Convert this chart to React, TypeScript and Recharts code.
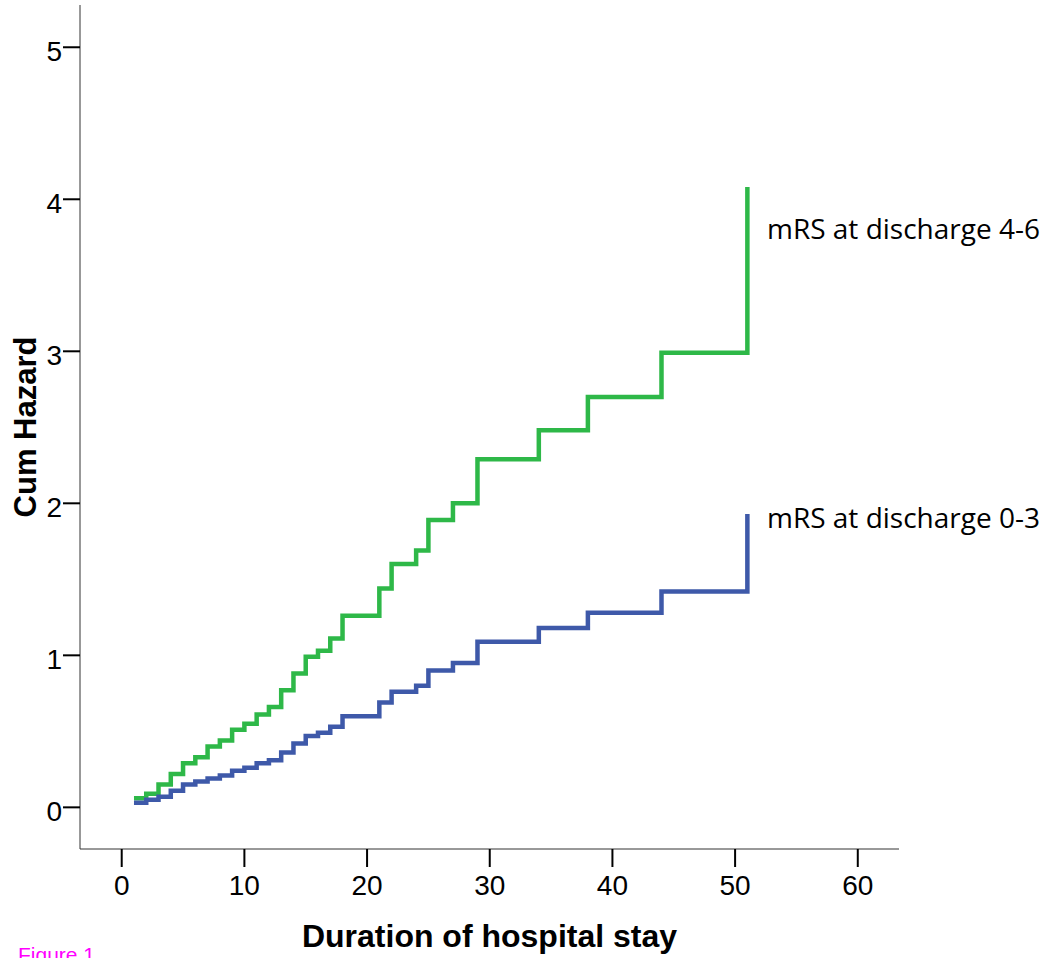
import { Line, LineChart, ReferenceDot, XAxis, YAxis } from "recharts"

// Cumulative hazard step curves
const days = [1, 2, 3, 4, 5, 6, 7, 8, 9, 10, 11, 12, 13, 14, 15, 16, 17, 18, 21, 22, 24, 25, 27, 29, 34, 38, 44, 51]
const hazardHigh = [
  0.06, 0.09, 0.15, 0.22, 0.29, 0.33, 0.4, 0.44, 0.51, 0.55, 0.61, 0.66, 0.77, 0.88, 0.99, 1.03, 1.11, 1.26, 1.44,
  1.6, 1.69, 1.89, 2.0, 2.29, 2.48, 2.7, 2.99, 4.08,
]
const hazardLow = [
  0.03, 0.05, 0.07, 0.11, 0.15, 0.17, 0.19, 0.21, 0.24, 0.26, 0.29, 0.31, 0.36, 0.42, 0.47, 0.49, 0.53, 0.6, 0.69,
  0.76, 0.8, 0.9, 0.95, 1.09, 1.18, 1.28, 1.42, 1.93,
]
const seriesNames = ["mRS at discharge 4-6", "mRS at discharge 0-3"]
const labelDay = 52.6
const labelHazard = [3.74, 1.84]
const xTicks = [0, 10, 20, 30, 40, 50, 60]
const yTicks = [0, 1, 2, 3, 4, 5]

const data = days.map((day, i) => ({ day, high: hazardHigh[i], low: hazardLow[i] }))

const GREEN = "#2eb848"
const BLUE = "#3e59a9"
const sans = "'Liberation Sans', Arial, sans-serif"

const XTick = (props: any) => (
  <text x={props.x} y={props.y} dy="0.71em" textAnchor="middle" fontSize={28} fontFamily={sans} fill="#000">
    {props.payload.value}
  </text>
)

const YTick = (props: any) => (
  <text x={props.x} y={props.y + 4} dy="0.355em" textAnchor="end" fontSize={28} fontFamily={sans} fill="#000">
    {props.payload.value}
  </text>
)

const seriesLabel = (text: string) => (props: any) => {
  const { x, y } = props.viewBox
  return (
    <text x={x} y={y} fontSize={28} fontFamily="'Open Sans', sans-serif" fill="#000">
      {text}
    </text>
  )
}

export default function App() {
  return (
    <div style={{ position: "absolute", left: 0, top: 0, width: 1046, height: 958, overflow: "hidden", background: "#fff" }}>
      <LineChart width={1046} height={958} data={data} margin={{ top: 5, right: 147, bottom: 0, left: 0 }}>
        <XAxis
          dataKey="day"
          type="number"
          domain={[-3.4, 63.36]}
          ticks={xTicks}
          allowDataOverflow
          height={109}
          tickSize={18}
          tickMargin={8}
          tick={XTick}
          tickLine={{ stroke: "#000", strokeWidth: 2 }}
          axisLine={{ stroke: "#333", strokeWidth: 1 }}
          label={{
            value: "Duration of hospital stay",
            position: "insideBottom",
            offset: 11,
            fill: "#000",
            fontSize: 32,
            fontWeight: "bold",
            fontFamily: sans,
          }}
        />
        <YAxis
          type="number"
          domain={[-0.274, 5.278]}
          ticks={yTicks}
          allowDataOverflow
          width={80}
          tickSize={17}
          tickMargin={1}
          tick={YTick}
          tickLine={{ stroke: "#000", strokeWidth: 2 }}
          axisLine={{ stroke: "#333", strokeWidth: 1 }}
          label={{
            content: (props: any) => {
              const vb = props.viewBox
              const cx = vb.x + 36
              const cy = vb.y + vb.height / 2
              return (
                <text
                  x={cx}
                  y={cy}
                  transform={`rotate(-90 ${cx} ${cy})`}
                  textAnchor="middle"
                  fontSize={31}
                  fontWeight="bold"
                  fontFamily={sans}
                  fill="#000"
                >
                  Cum Hazard
                </text>
              )
            },
          }}
        />
        <Line
          dataKey="high"
          type="stepAfter"
          stroke={GREEN}
          strokeWidth={4.5}
          strokeLinecap="butt"
          strokeLinejoin="miter"
          dot={false}
          activeDot={false}
          isAnimationActive={false}
        />
        <Line
          dataKey="low"
          type="stepAfter"
          stroke={BLUE}
          strokeWidth={4.5}
          strokeLinecap="butt"
          strokeLinejoin="miter"
          dot={false}
          activeDot={false}
          isAnimationActive={false}
        />
        {seriesNames.map((name, i) => (
          <ReferenceDot
            key={name}
            x={labelDay}
            y={labelHazard[i]}
            r={0}
            fill="none"
            stroke="none"
            label={{ content: seriesLabel(name) }}
          />
        ))}
      </LineChart>
      <span
        style={{
          position: "absolute",
          left: 18,
          top: 943,
          fontSize: 21,
          fontFamily: sans,
          color: "#ff00ff",
          lineHeight: "24px",
        }}
      >
        Figure 1
      </span>
    </div>
  )
}
